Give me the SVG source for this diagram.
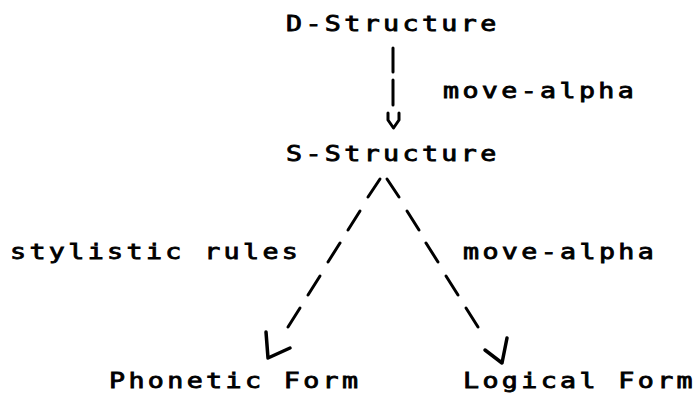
<svg xmlns="http://www.w3.org/2000/svg" width="699" height="398" viewBox="0 0 699 398">
<style>
  text { font-family: "DejaVu Sans Mono", "Liberation Mono", monospace; font-size: 20.5px; letter-spacing: 2.6px; fill: #000; stroke: #000; stroke-width: 0.8px; }
  .c { stroke: #000; stroke-width: 3; stroke-linecap: round; fill: none; stroke-linejoin: round; }
  .a { stroke: #000; stroke-width: 3.5; stroke-linecap: round; fill: none; stroke-linejoin: round; }
</style>
<rect width="699" height="398" fill="#fff"/>
<g id="node-d-structure"><text transform="translate(286,31) scale(1.3,1)">D-Structure</text></g>
<g id="node-s-structure"><text transform="translate(286,161) scale(1.3,1)">S-Structure</text></g>
<g id="node-phonetic-form"><text transform="translate(109,388) scale(1.3,1)">Phonetic Form</text></g>
<g id="node-logical-form"><text transform="translate(463,388) scale(1.3,1)">Logical Form</text></g>
<g id="labels">
  <text transform="translate(443,98) scale(1.3,1)">move-alpha</text>
  <text transform="translate(10,259) scale(1.3,1)">stylistic rules</text>
  <text transform="translate(463,259) scale(1.3,1)">move-alpha</text>
</g>
<g id="connectors">
  <line class="c" x1="393" y1="48" x2="393" y2="72"/>
  <line class="c" x1="393" y1="80" x2="393" y2="105"/>
  <polyline class="c" points="388,113 388,120 393.5,128 399,120 399,113"/>
  <line class="c" x1="368" y1="197" x2="380" y2="179"/>
  <line class="c" x1="348" y1="230" x2="360" y2="211"/>
  <line class="c" x1="328" y1="262" x2="340" y2="243"/>
  <line class="c" x1="308" y1="295" x2="320" y2="276"/>
  <line class="c" x1="288" y1="327" x2="300" y2="308"/>
  <polyline class="a" points="266,332 268,358 290,348"/>
  <line class="c" x1="387" y1="179" x2="399" y2="197"/>
  <line class="c" x1="407" y1="211" x2="419" y2="230"/>
  <line class="c" x1="426" y1="243" x2="438" y2="262"/>
  <line class="c" x1="446" y1="276" x2="458" y2="295"/>
  <line class="c" x1="466" y1="308" x2="478" y2="327"/>
  <polyline class="a" points="485,350 502,363 507,338"/>
</g>
</svg>
